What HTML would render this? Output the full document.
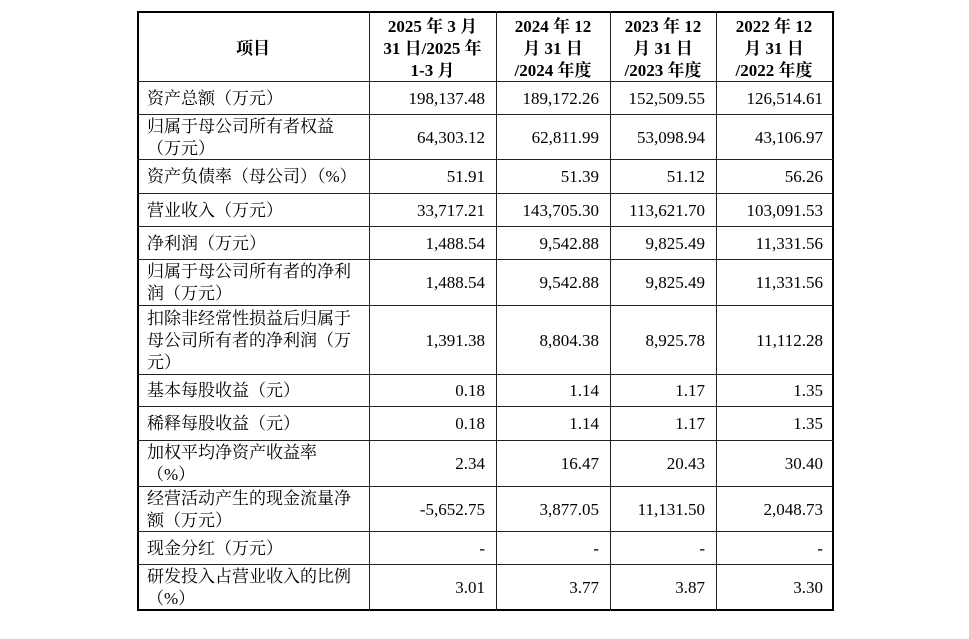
<!DOCTYPE html>
<html><head><meta charset="utf-8">
<style>
html,body{margin:0;padding:0;background:#fff;}
body{width:969px;height:639px;position:relative;overflow:hidden;font-family:"Liberation Serif","Noto Serif CJK SC",serif;color:#000;font-size:17px;}
.box{position:absolute;left:137px;top:11px;width:697px;height:600px;border:2px solid #000;box-sizing:border-box;}
.v{position:absolute;width:1px;top:11px;height:600px;background:#222;}
.h{position:absolute;height:1px;left:137px;width:697px;background:#222;}
.c{position:absolute;display:flex;align-items:center;line-height:22px;box-sizing:border-box;padding-top:2px;}
.l{justify-content:flex-start;padding-left:10px;left:137px;width:232px;}
.n{justify-content:flex-end;padding-right:11px;}
.hd{justify-content:center;text-align:center;font-weight:bold;padding-top:5px;}
.c1{left:369px;width:127px;}
.c2{left:496px;width:114px;}
.c3{left:610px;width:106px;}
.c4{left:716px;width:118px;}
</style></head><body>
<div class="box"></div>
<div class="v" style="left:369px"></div>
<div class="v" style="left:496px"></div>
<div class="v" style="left:610px"></div>
<div class="v" style="left:716px"></div>
<div class="h" style="top:81px"></div>
<div class="h" style="top:114px"></div>
<div class="h" style="top:159px"></div>
<div class="h" style="top:193px"></div>
<div class="h" style="top:226px"></div>
<div class="h" style="top:259px"></div>
<div class="h" style="top:305px"></div>
<div class="h" style="top:374px"></div>
<div class="h" style="top:406px"></div>
<div class="h" style="top:440px"></div>
<div class="h" style="top:486px"></div>
<div class="h" style="top:531px"></div>
<div class="h" style="top:564px"></div>

<!-- header -->
<div class="c hd" style="left:137px;width:232px;top:11px;height:70px;">项目</div>
<div class="c hd c1" style="top:11px;height:70px;">2025 年 3 月<br>31 日/2025 年<br>1-3 月</div>
<div class="c hd c2" style="top:11px;height:70px;">2024 年 12<br>月 31 日<br>/2024 年度</div>
<div class="c hd c3" style="top:11px;height:70px;">2023 年 12<br>月 31 日<br>/2023 年度</div>
<div class="c hd c4" style="top:11px;height:70px;padding-right:2px;">2022 年 12<br>月 31 日<br>/2022 年度</div>

<!-- row 1 -->
<div class="c l" style="top:81px;height:33px;">资产总额（万元）</div>
<div class="c n c1" style="top:81px;height:33px;">198,137.48</div>
<div class="c n c2" style="top:81px;height:33px;">189,172.26</div>
<div class="c n c3" style="top:81px;height:33px;">152,509.55</div>
<div class="c n c4" style="top:81px;height:33px;">126,514.61</div>

<!-- row 2 -->
<div class="c l" style="top:114px;height:45px;">归属于母公司所有者权益<br>（万元）</div>
<div class="c n c1" style="top:114px;height:45px;">64,303.12</div>
<div class="c n c2" style="top:114px;height:45px;">62,811.99</div>
<div class="c n c3" style="top:114px;height:45px;">53,098.94</div>
<div class="c n c4" style="top:114px;height:45px;">43,106.97</div>

<!-- row 3 -->
<div class="c l" style="top:159px;height:34px;">资产负债率（母公司）（%）</div>
<div class="c n c1" style="top:159px;height:34px;">51.91</div>
<div class="c n c2" style="top:159px;height:34px;">51.39</div>
<div class="c n c3" style="top:159px;height:34px;">51.12</div>
<div class="c n c4" style="top:159px;height:34px;">56.26</div>

<!-- row 4 -->
<div class="c l" style="top:193px;height:33px;">营业收入（万元）</div>
<div class="c n c1" style="top:193px;height:33px;">33,717.21</div>
<div class="c n c2" style="top:193px;height:33px;">143,705.30</div>
<div class="c n c3" style="top:193px;height:33px;">113,621.70</div>
<div class="c n c4" style="top:193px;height:33px;">103,091.53</div>

<!-- row 5 -->
<div class="c l" style="top:226px;height:33px;">净利润（万元）</div>
<div class="c n c1" style="top:226px;height:33px;">1,488.54</div>
<div class="c n c2" style="top:226px;height:33px;">9,542.88</div>
<div class="c n c3" style="top:226px;height:33px;">9,825.49</div>
<div class="c n c4" style="top:226px;height:33px;">11,331.56</div>

<!-- row 6 -->
<div class="c l" style="top:259px;height:46px;">归属于母公司所有者的净利<br>润（万元）</div>
<div class="c n c1" style="top:259px;height:46px;">1,488.54</div>
<div class="c n c2" style="top:259px;height:46px;">9,542.88</div>
<div class="c n c3" style="top:259px;height:46px;">9,825.49</div>
<div class="c n c4" style="top:259px;height:46px;">11,331.56</div>

<!-- row 7 -->
<div class="c l" style="top:305px;height:69px;">扣除非经常性损益后归属于<br>母公司所有者的净利润（万<br>元）</div>
<div class="c n c1" style="top:305px;height:69px;">1,391.38</div>
<div class="c n c2" style="top:305px;height:69px;">8,804.38</div>
<div class="c n c3" style="top:305px;height:69px;">8,925.78</div>
<div class="c n c4" style="top:305px;height:69px;">11,112.28</div>

<!-- row 8 -->
<div class="c l" style="top:374px;height:32px;">基本每股收益（元）</div>
<div class="c n c1" style="top:374px;height:32px;">0.18</div>
<div class="c n c2" style="top:374px;height:32px;">1.14</div>
<div class="c n c3" style="top:374px;height:32px;">1.17</div>
<div class="c n c4" style="top:374px;height:32px;">1.35</div>

<!-- row 9 -->
<div class="c l" style="top:406px;height:34px;">稀释每股收益（元）</div>
<div class="c n c1" style="top:406px;height:34px;">0.18</div>
<div class="c n c2" style="top:406px;height:34px;">1.14</div>
<div class="c n c3" style="top:406px;height:34px;">1.17</div>
<div class="c n c4" style="top:406px;height:34px;">1.35</div>

<!-- row 10 -->
<div class="c l" style="top:440px;height:46px;">加权平均净资产收益率<br>（%）</div>
<div class="c n c1" style="top:440px;height:46px;">2.34</div>
<div class="c n c2" style="top:440px;height:46px;">16.47</div>
<div class="c n c3" style="top:440px;height:46px;">20.43</div>
<div class="c n c4" style="top:440px;height:46px;">30.40</div>

<!-- row 11 -->
<div class="c l" style="top:486px;height:45px;">经营活动产生的现金流量净<br>额（万元）</div>
<div class="c n c1" style="top:486px;height:45px;">-5,652.75</div>
<div class="c n c2" style="top:486px;height:45px;">3,877.05</div>
<div class="c n c3" style="top:486px;height:45px;">11,131.50</div>
<div class="c n c4" style="top:486px;height:45px;">2,048.73</div>

<!-- row 12 -->
<div class="c l" style="top:531px;height:33px;">现金分红（万元）</div>
<div class="c n c1" style="top:531px;height:33px;">-</div>
<div class="c n c2" style="top:531px;height:33px;">-</div>
<div class="c n c3" style="top:531px;height:33px;">-</div>
<div class="c n c4" style="top:531px;height:33px;">-</div>

<!-- row 13 -->
<div class="c l" style="top:564px;height:46px;">研发投入占营业收入的比例<br>（%）</div>
<div class="c n c1" style="top:564px;height:46px;">3.01</div>
<div class="c n c2" style="top:564px;height:46px;">3.77</div>
<div class="c n c3" style="top:564px;height:46px;">3.87</div>
<div class="c n c4" style="top:564px;height:46px;">3.30</div>
</body></html>
